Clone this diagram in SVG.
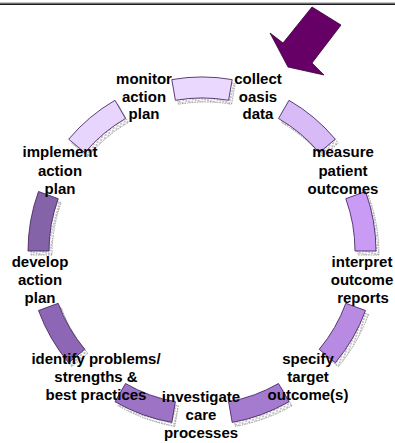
<svg xmlns="http://www.w3.org/2000/svg" width="395" height="443" viewBox="0 0 395 443">
<style>
.seg{stroke:#4a2a66;stroke-width:0.9}
.sh{fill:url(#hatch);stroke:#808080;stroke-width:0.7;stroke-dasharray:1.5 1}
.lbl{font-family:"Liberation Sans",Arial,sans-serif;font-weight:bold;font-size:15px;fill:#000;text-anchor:middle}
</style>
<defs>
<pattern id="hatch" width="3" height="3" patternUnits="userSpaceOnUse" patternTransform="rotate(15)">
<line x1="1" y1="0" x2="1" y2="2" stroke="#777" stroke-width="0.9"/>
</pattern>
</defs>
<rect x="0" y="2.5" width="395" height="1" fill="#888"/>
<rect x="0" y="3.5" width="395" height="1.5" fill="#1e1e1e"/>
<g id="shadows" transform="translate(3,4)">
<path class="sh" d="M171.8,79.6 A174,174 0 0 1 232.2,79.6 L228.6,100.3 A153,153 0 0 0 175.4,100.3 Z"/>
<path class="sh" d="M289,100.3 A174,174 0 0 1 335.3,139.2 L319.2,152.7 A153,153 0 0 0 278.5,118.5 Z"/>
<path class="sh" d="M365.5,191.5 A174,174 0 0 1 376,251 L355,251 A153,153 0 0 0 345.8,198.7 Z"/>
<path class="sh" d="M365.5,310.5 A174,174 0 0 1 335.3,362.8 L319.2,349.3 A153,153 0 0 0 345.8,303.3 Z"/>
<path class="sh" d="M289,401.7 A174,174 0 0 1 232.2,422.4 L228.6,401.7 A153,153 0 0 0 278.5,383.5 Z"/>
<path class="sh" d="M171.8,422.4 A174,174 0 0 1 115,401.7 L125.5,383.5 A153,153 0 0 0 175.4,401.7 Z"/>
<path class="sh" d="M68.7,362.8 A174,174 0 0 1 38.5,310.5 L58.2,303.3 A153,153 0 0 0 84.8,349.3 Z"/>
<path class="sh" d="M28,251 A174,174 0 0 1 38.5,191.5 L58.2,198.7 A153,153 0 0 0 49,251 Z"/>
<path class="sh" d="M68.7,139.2 A174,174 0 0 1 115,100.3 L125.5,118.5 A153,153 0 0 0 84.8,152.7 Z"/>
</g>
<g id="connectors">
<path id="seg-top" class="seg" fill="#EAD8FF" d="M171.8,79.6 A174,174 0 0 1 232.2,79.6 L228.6,100.3 A153,153 0 0 0 175.4,100.3 Z"/>
<path id="seg-ur" class="seg" fill="#D8BAF7" d="M289,100.3 A174,174 0 0 1 335.3,139.2 L319.2,152.7 A153,153 0 0 0 278.5,118.5 Z"/>
<path id="seg-r" class="seg" fill="#CA9BF5" d="M365.5,191.5 A174,174 0 0 1 376,251 L355,251 A153,153 0 0 0 345.8,198.7 Z"/>
<path id="seg-lr" class="seg" fill="#B98AE2" d="M365.5,310.5 A174,174 0 0 1 335.3,362.8 L319.2,349.3 A153,153 0 0 0 345.8,303.3 Z"/>
<path id="seg-br" class="seg" fill="#A57BD0" d="M289,401.7 A174,174 0 0 1 232.2,422.4 L228.6,401.7 A153,153 0 0 0 278.5,383.5 Z"/>
<path id="seg-bl" class="seg" fill="#9C73C5" d="M171.8,422.4 A174,174 0 0 1 115,401.7 L125.5,383.5 A153,153 0 0 0 175.4,401.7 Z"/>
<path id="seg-ll" class="seg" fill="#8D67B5" d="M68.7,362.8 A174,174 0 0 1 38.5,310.5 L58.2,303.3 A153,153 0 0 0 84.8,349.3 Z"/>
<path id="seg-l" class="seg" fill="#8463A8" d="M28,251 A174,174 0 0 1 38.5,191.5 L58.2,198.7 A153,153 0 0 0 49,251 Z"/>
<path id="seg-ul" class="seg" fill="#E8D5FD" d="M68.7,139.2 A174,174 0 0 1 115,100.3 L125.5,118.5 A153,153 0 0 0 84.8,152.7 Z"/>
</g>
<g id="monitor"><text class="lbl" x="144" y="84">monitor</text><text class="lbl" x="144" y="101.5">action</text><text class="lbl" x="144" y="119">plan</text></g>
<g id="collect"><text class="lbl" x="258" y="84">collect</text><text class="lbl" x="258" y="101.5">oasis</text><text class="lbl" x="258" y="119">data</text></g>
<g id="implement"><text class="lbl" x="60" y="157">implement</text><text class="lbl" x="60" y="175.5">action</text><text class="lbl" x="60" y="193.5">plan</text></g>
<g id="measure"><text class="lbl" x="343" y="157">measure</text><text class="lbl" x="343" y="175.5">patient</text><text class="lbl" x="343" y="193.5">outcomes</text></g>
<g id="develop"><text class="lbl" x="40" y="267">develop</text><text class="lbl" x="40" y="285">action</text><text class="lbl" x="40" y="303">plan</text></g>
<g id="interpret"><text class="lbl" x="362" y="267">interpret</text><text class="lbl" x="362" y="285">outcome</text><text class="lbl" x="363" y="303">reports</text></g>
<g id="identify"><text class="lbl" x="96" y="364">identify problems/</text><text class="lbl" x="96" y="382">strengths &amp;</text><text class="lbl" x="96" y="400">best practices</text></g>
<g id="specify"><text class="lbl" x="308" y="364">specify</text><text class="lbl" x="308" y="382">target</text><text class="lbl" x="308" y="400">outcome(s)</text></g>
<g id="investigate"><text class="lbl" x="201" y="402">investigate</text><text class="lbl" x="201" y="420">care</text><text class="lbl" x="201" y="437.5">processes</text></g>
<g id="start-arrow"><polygon points="312,7 341,25 312,63 324,75 288,67 270,33 283,43" fill="#660066" stroke="#330033" stroke-width="0.8"/></g>
</svg>
